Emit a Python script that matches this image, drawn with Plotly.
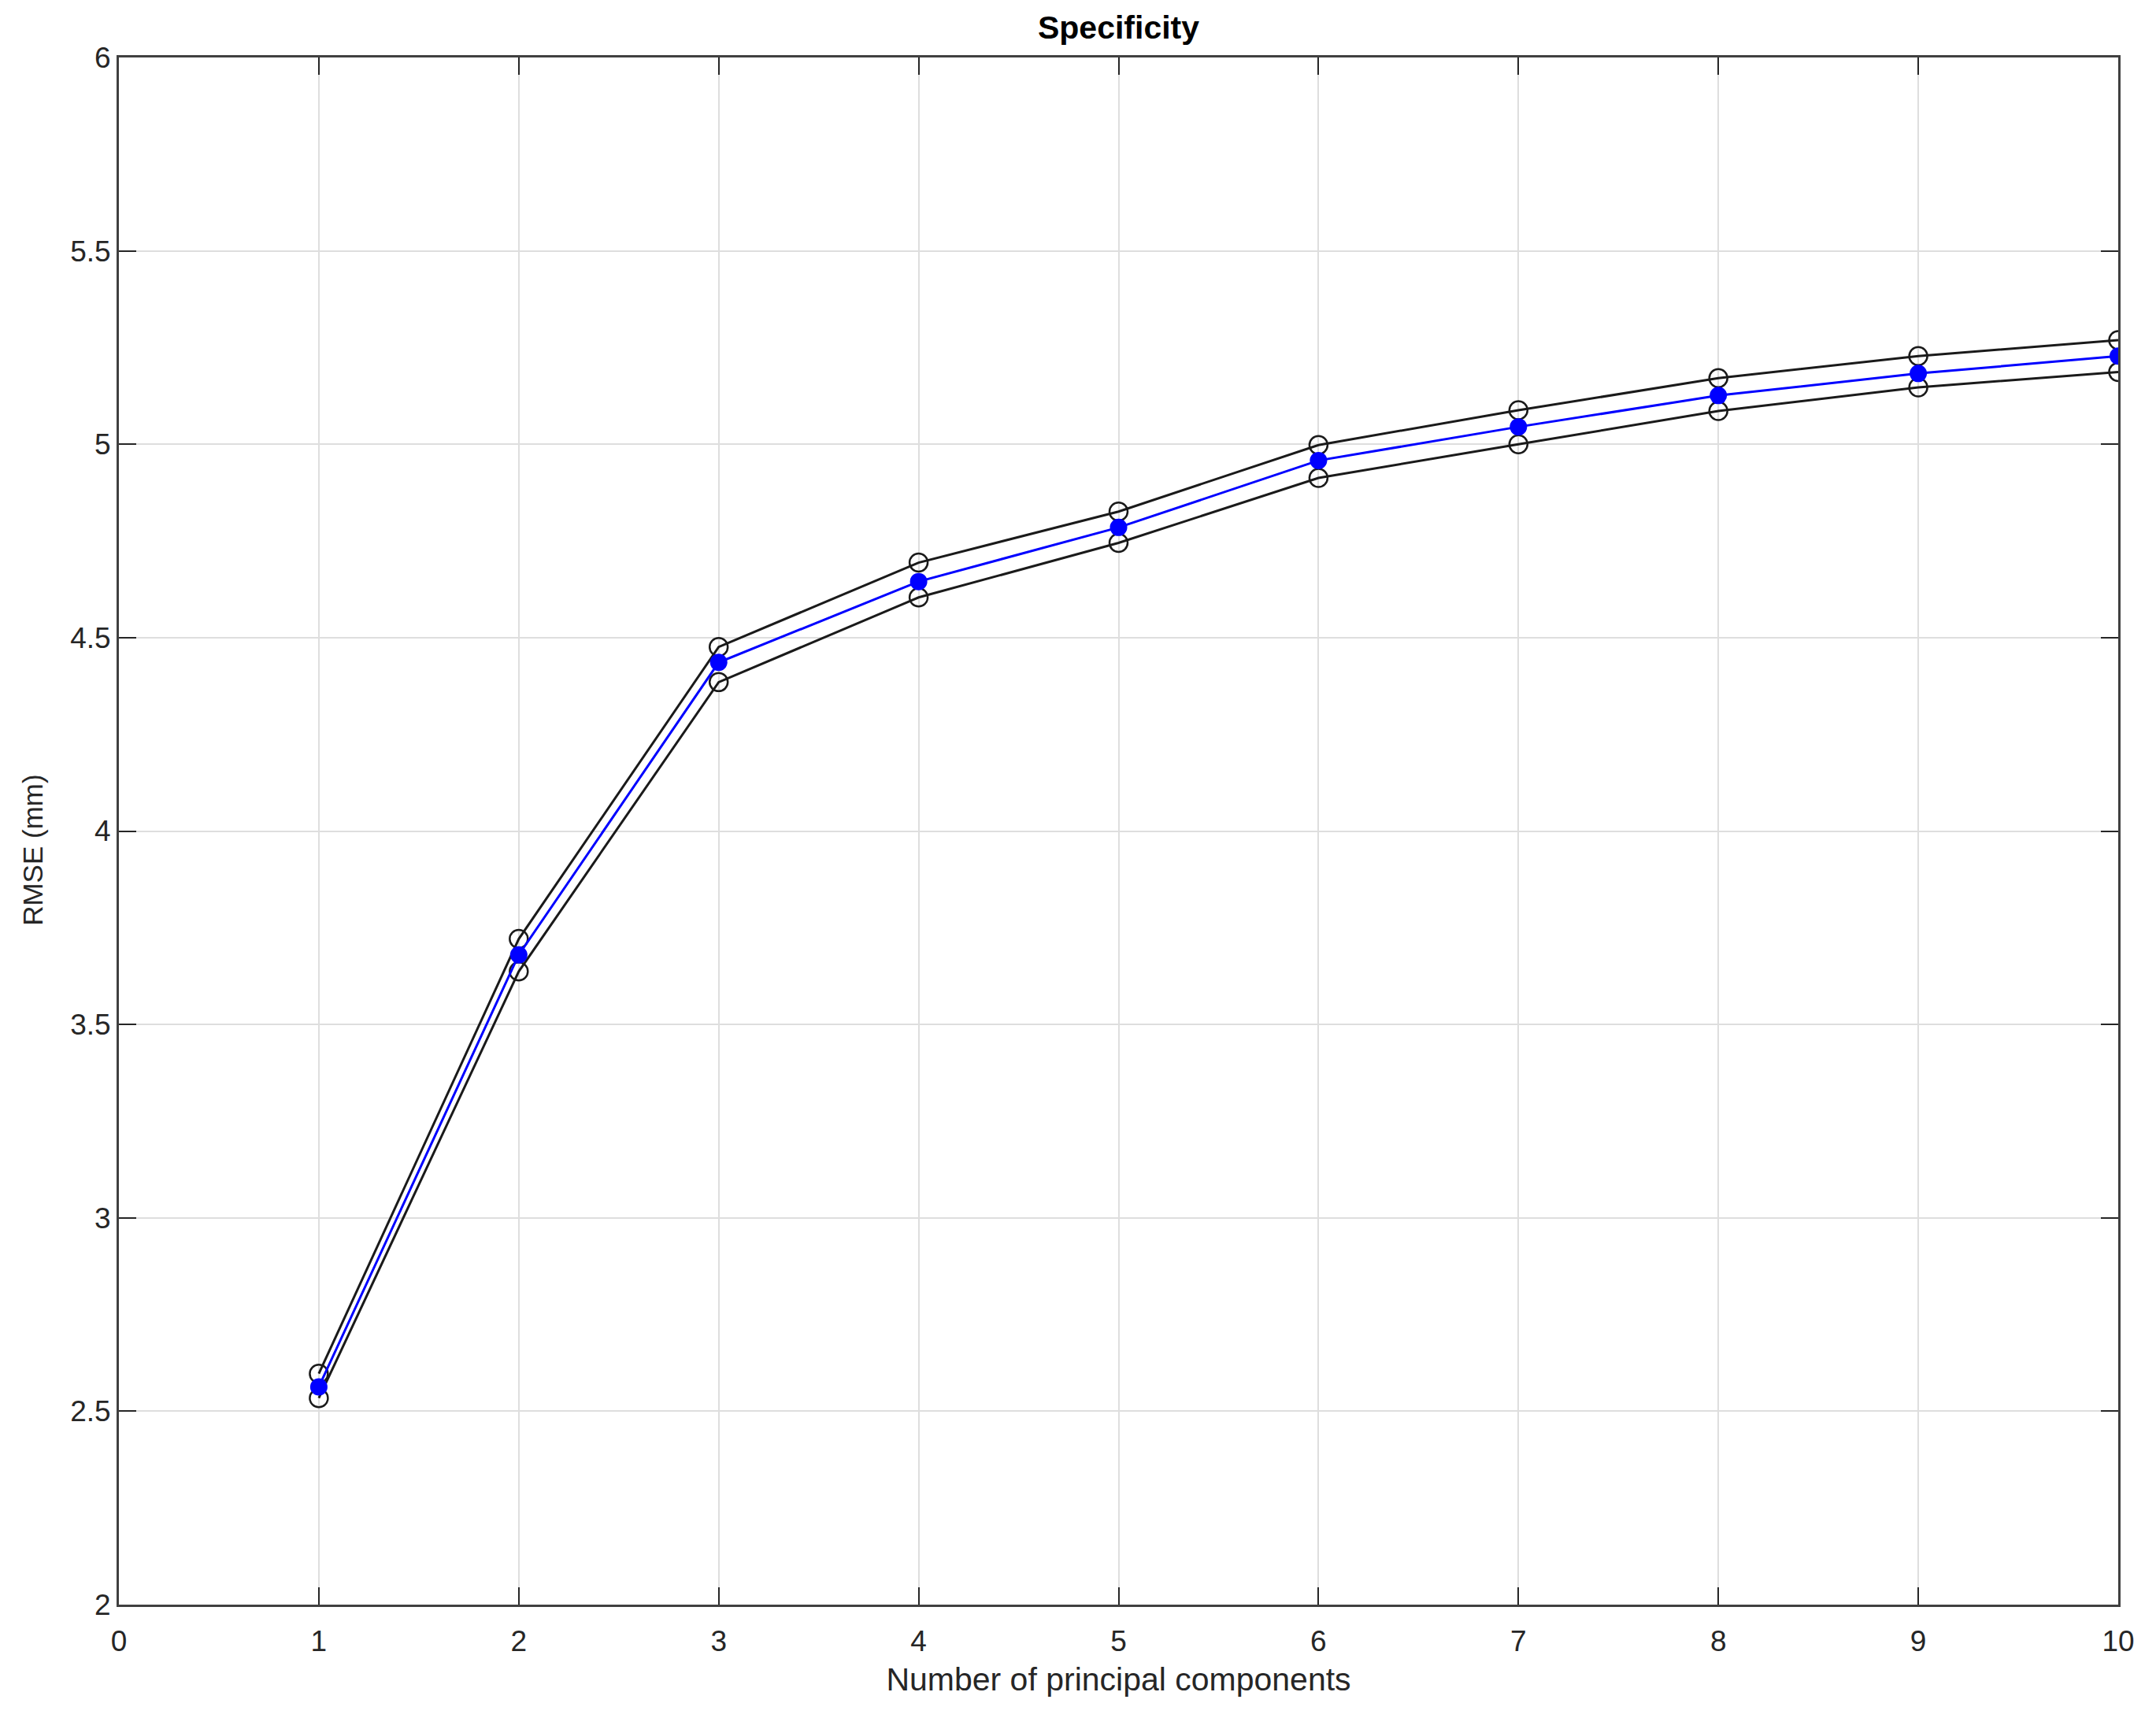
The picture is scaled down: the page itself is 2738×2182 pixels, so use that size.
import plotly.graph_objects as go

# Data
components = [1, 2, 3, 4, 5, 6, 7, 8, 9, 10]
rmse_mean = [2.563, 3.680, 4.436, 4.645, 4.785, 4.958, 5.045, 5.126, 5.183, 5.228]
rmse_upper = [2.597, 3.721, 4.476, 4.694, 4.826, 4.998, 5.088, 5.171, 5.228, 5.269]
rmse_lower = [2.534, 3.637, 4.385, 4.604, 4.745, 4.913, 5.000, 5.086, 5.147, 5.187]

x_tickvals = [0, 1, 2, 3, 4, 5, 6, 7, 8, 9, 10]
x_ticktext = ["0", "1", "2", "3", "4", "5", "6", "7", "8", "9", "10"]
y_tickvals = [2, 2.5, 3, 3.5, 4, 4.5, 5, 5.5, 6]
y_ticktext = ["2", "2.5", "3", "3.5", "4", "4.5", "5", "5.5", "6"]

FONT = "Liberation Sans, Arial, Helvetica, sans-serif"
TXT = "#262626"

fig = go.Figure()
for ys in (rmse_upper, rmse_lower):
    fig.add_trace(go.Scatter(
        x=components, y=ys, mode="lines+markers",
        line=dict(color="#1a1a1a", width=3),
        marker=dict(symbol="circle-open", size=23, color="#1a1a1a",
                    line=dict(width=2.5, color="#1a1a1a")),
        showlegend=False, hoverinfo="x+y"))
fig.add_trace(go.Scatter(
    x=components, y=rmse_mean, mode="lines+markers",
    line=dict(color="#0000ff", width=3),
    marker=dict(symbol="circle", size=22, color="#0000ff"),
    showlegend=False, hoverinfo="x+y"))

axis_common = dict(
    showline=True, linecolor="#404040", linewidth=3, mirror="ticks",
    ticks="inside", ticklen=22, tickwidth=2, tickcolor="#262626",
    showgrid=True, gridcolor="#dedede", gridwidth=2, zeroline=False,
    tickfont=dict(family=FONT, size=37, color=TXT),
)

fig.update_layout(
    width=2738, height=2182,
    paper_bgcolor="white", plot_bgcolor="white",
    margin=dict(l=143, r=56, t=65, b=152),
    title=dict(text="<b>Specificity</b>", x=0.5, xref="paper", xanchor="center",
               y=1, yref="container", yanchor="top", pad=dict(t=12),
               font=dict(family=FONT, size=41, color="#000000")),
    xaxis=dict(range=[0, 10], tickvals=x_tickvals, ticktext=x_ticktext,
               ticklabelstandoff=12,
               title=dict(text="Number of principal components", standoff=14,
                          font=dict(family=FONT, size=41, color=TXT)),
               **axis_common),
    yaxis=dict(range=[2, 6], tickvals=y_tickvals, ticktext=y_ticktext,
               **axis_common),
    annotations=[dict(text="RMSE (mm)", textangle=-90, xref="paper", yref="paper",
                      x=0, y=0.4876, xanchor="center", yanchor="middle",
                      xshift=-109, showarrow=False,
                      font=dict(family=FONT, size=35, color=TXT))],
)

fig.write_html("out.html")
